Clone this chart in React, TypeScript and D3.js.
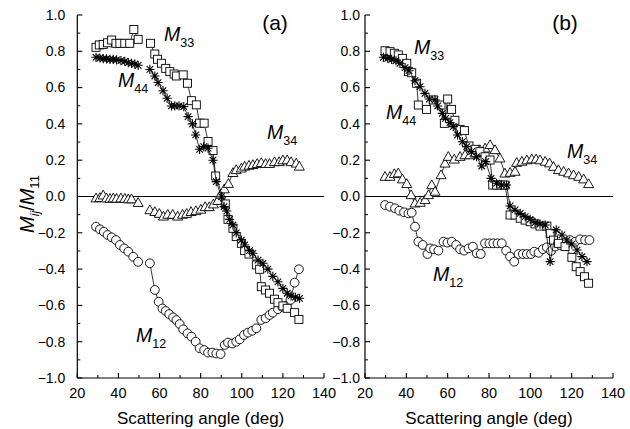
import React from "react";
import * as d3 from "d3";

type P = [number, number];

// ---------- Panel (a) data ----------
const aM33: P[] = [[29.1,0.822],[30.7,0.835],[32.6,0.838],[34.7,0.847],[36.7,0.862],[38.8,0.844],[40.7,0.844],[43.1,0.844],[45.5,0.844],[47.5,0.92],[49.6,0.866],
[55.6,0.844],[57.7,0.785],[59.0,0.756],[60.9,0.734],[63.0,0.706],[65.0,0.688],[67.1,0.675],[68.2,0.664],[71.5,0.67],[73.6,0.624],[75.5,0.528],[77.9,0.505],[79.5,0.404],[81.7,0.404],[83.6,0.303],[86.0,0.253],[87.3,0.113],
[92.0,-0.041],[93.3,-0.126],[95.7,-0.175],[97.3,-0.221],[99.8,-0.258],[101.4,-0.298],[103.5,-0.317],[107.1,-0.377],[108.7,-0.401],[109.5,-0.497],[111.6,-0.515],[113.5,-0.533],[115.9,-0.566],[117.6,-0.585],[120.0,-0.603],[122.1,-0.616],[125.7,-0.640],[127.8,-0.677]];

const aM44: P[] = [[29.1,0.767],[31.0,0.763],[32.6,0.760],[34.2,0.758],[35.9,0.756],[37.5,0.755],[39.1,0.753],[41.2,0.749],[43.1,0.745],[44.8,0.738],[46.4,0.734],[48.0,0.729],[49.6,0.723],
[55.3,0.70],[57.7,0.664],[59.3,0.628],[61.7,0.583],[63.7,0.541],[65.8,0.499],[67.4,0.499],[69.5,0.499],[71.8,0.495],[73.9,0.44],[76.0,0.40],[77.6,0.339],[79.5,0.26],[81.5,0.275],[83.6,0.266],[86.0,0.20],[87.6,0.082],[90.1,-0.001],[91.4,-0.056],[92.7,-0.08],[94.1,-0.126],[95.7,-0.157],[97.3,-0.2],[99.8,-0.24],[101.4,-0.267],[103.8,-0.298],[105.4,-0.313],[107.9,-0.35],[110.3,-0.368],[112.7,-0.40],[115.1,-0.44],[117.6,-0.47],[120.0,-0.506],[122.1,-0.533],[124.0,-0.548],[126.1,-0.555],[128.1,-0.561]];

const aM34: P[] = [[29.1,-0.01],[31.0,-0.008],[32.6,0.006],[34.2,-0.01],[35.9,-0.012],[37.5,-0.01],[39.1,-0.012],[41.2,-0.01],[43.1,-0.012],[44.8,-0.015],[46.4,-0.015],[49.6,-0.035],
[55.3,-0.075],[57.7,-0.085],[59.9,-0.095],[61.9,-0.11],[64.0,-0.1],[66.4,-0.1],[68.8,-0.11],[71.2,-0.1],[73.2,-0.095],[75.3,-0.085],[77.7,-0.08],[80.1,-0.072],[82.2,-0.058],[84.2,-0.058],[86.2,-0.043],[88.3,-0.024],[89.7,0.01],[91.5,0.04],[93.5,0.07],[95.7,0.13],[97.3,0.146],[99.8,0.155],[101.4,0.165],[103.5,0.17],[105.4,0.174],[107.5,0.18],[109.5,0.185],[111.6,0.18],[113.5,0.18],[115.9,0.19],[118.2,0.19],[120.0,0.20],[122.1,0.2],[124.0,0.19],[126.5,0.182],[128.0,0.165]];

const aM12: P[] = [[29.1,-0.166],[31.0,-0.181],[32.9,-0.194],[34.7,-0.212],[36.7,-0.225],[38.8,-0.24],[40.7,-0.267],[42.8,-0.286],[44.8,-0.304],[47.2,-0.332],[49.6,-0.36],
[55.3,-0.368],[57.7,-0.515],[59.6,-0.58],[61.4,-0.617],[63.0,-0.631],[64.7,-0.648],[66.6,-0.666],[68.2,-0.681],[69.8,-0.703],[71.5,-0.732],[73.6,-0.754],[75.5,-0.772],[77.6,-0.8],[79.5,-0.836],[81.7,-0.846],[83.6,-0.86],[85.7,-0.86],[87.6,-0.865],[89.7,-0.868],[91.7,-0.818],[93.3,-0.805],[95.4,-0.81],[97.3,-0.8],[99.0,-0.787],[101.1,-0.763],[103.0,-0.75],[105.1,-0.74],[107.1,-0.726],[109.5,-0.68],[111.6,-0.671],[113.5,-0.653],[115.1,-0.64],[117.6,-0.621],[119.7,-0.607],[121.6,-0.603],[123.7,-0.57],[125.7,-0.475],[127.8,-0.401]];

// ---------- Panel (b) data ----------
const bM33: P[] = [[29.7,0.803],[32.1,0.798],[34.2,0.789],[36.1,0.78],[38.1,0.761],[40.2,0.734],[41.0,0.688],[42.6,0.682],[45.0,0.624],[45.8,0.504],[49.8,0.48],[53.1,0.532],[56.8,0.504],[58.4,0.403],[60.0,0.537],[61.9,0.48],[63.5,0.42],[66.0,0.37],[68.1,0.363],[70.3,0.278],[73.2,0.26],[75.6,0.247],[78.1,0.219],[80.5,0.201],[81.8,0.063],[83.7,0.063],[85.8,0.063],[87.7,0.063],
[90.2,-0.102],[92.6,-0.102],[95.1,-0.12],[97.5,-0.13],[99.9,-0.139],[102.3,-0.151],[104.7,-0.163],[108.0,-0.163],[109.6,-0.203],[111.2,-0.24],[113.6,-0.258],[116.8,-0.276],[120.1,-0.335],[122.2,-0.387],[124.1,-0.414],[126.2,-0.442],[128.2,-0.478]];

const bM44: P[] = [[28.9,0.767],[31.0,0.761],[32.9,0.756],[35.0,0.748],[36.9,0.734],[39.4,0.71],[41.3,0.693],[44.2,0.638],[46.6,0.605],[49.0,0.568],[51.1,0.537],[53.9,0.532],[55.2,0.499],[57.4,0.458],[59.0,0.431],[61.1,0.407],[62.7,0.385],[64.8,0.339],[67.1,0.302],[69.2,0.275],[71.6,0.247],[74.0,0.219],[76.5,0.168],[78.4,0.192],[81.0,0.1],[83.7,0.073],[86.1,0.063],[88.5,0.063],
[90.2,-0.052],[92.6,-0.074],[95.1,-0.093],[97.5,-0.111],[99.9,-0.126],[102.3,-0.144],[104.7,-0.152],[107.2,-0.157],[109.6,-0.359],[112.5,-0.184],[115.3,-0.212],[117.7,-0.24],[120.1,-0.262],[122.6,-0.295],[125.0,-0.331],[127.4,-0.359]];

const bM34: P[] = [[29.7,0.109],[32.1,0.109],[34.2,0.124],[36.1,0.128],[38.1,0.095],[40.2,0.069],[42.3,0.008],[44.2,-0.038],[46.7,-0.034],[49.1,-0.019],[50.7,0.008],[52.3,0.063],[53.9,0.027],[56.8,0.118],[58.7,0.182],[60.3,0.219],[63.2,0.204],[66.0,0.219],[68.4,0.228],[70.8,0.228],[73.2,0.238],[75.6,0.256],[78.1,0.265],[80.5,0.284],[82.9,0.256],[85.3,0.21],[87.7,0.127],
[90.2,0.131],[92.6,0.137],[93.4,0.186],[95.9,0.192],[98.3,0.2],[100.7,0.205],[102.8,0.205],[104.7,0.2],[107.2,0.192],[109.3,0.183],[111.2,0.164],[113.6,0.146],[116.1,0.137],[118.5,0.128],[120.9,0.118],[123.4,0.109],[125.8,0.095],[128.2,0.069]];

const bM12: P[] = [[29.7,-0.047],[32.1,-0.056],[34.5,-0.065],[36.6,-0.078],[38.9,-0.087],[41.0,-0.093],[42.6,-0.089],[44.2,-0.166],[45.8,-0.249],[47.9,-0.267],[50.2,-0.317],[51.5,-0.286],[53.4,-0.291],[55.5,-0.298],[58.0,-0.249],[59.9,-0.254],[62.0,-0.249],[64.1,-0.267],[66.0,-0.291],[68.0,-0.298],[70.1,-0.286],[72.2,-0.276],[74.1,-0.313],[76.0,-0.317],[78.1,-0.258],[80.2,-0.258],[82.1,-0.258],[84.1,-0.258],[86.2,-0.258],[88.3,-0.298],[90.2,-0.331],[92.2,-0.359],[94.3,-0.317],[96.4,-0.317],[98.3,-0.317],[100.3,-0.317],[101.9,-0.304],[104.0,-0.31],[106.1,-0.29],[108.0,-0.28],[110.0,-0.3],[112.0,-0.276],[114.4,-0.267],[116.8,-0.254],[119.3,-0.24],[121.7,-0.249],[124.1,-0.236],[126.5,-0.24],[128.6,-0.24]];

const xTicksMajor = [20, 40, 60, 80, 100, 120, 140];
const xTicksMinor = [30, 50, 70, 90, 110, 130];
const yTicksMajor = [-1.0, -0.8, -0.6, -0.4, -0.2, 0.0, 0.2, 0.4, 0.6, 0.8, 1.0];
const yTicksMinor = [-0.9, -0.7, -0.5, -0.3, -0.1, 0.1, 0.3, 0.5, 0.7, 0.9];

const FONT = "'Liberation Sans', Arial, Helvetica, sans-serif";

const y = d3.scaleLinear().domain([-1, 1]).range([378, 15]);
const fmt = d3.format(".1f");

type Sc = d3.ScaleLinear<number, number>;

function segments(data: P[]): P[][] {
  const out: P[][] = [];
  let cur: P[] = [];
  data.forEach((d, i) => {
    if (i > 0 && d[0] - data[i - 1][0] > 5) { out.push(cur); cur = []; }
    cur.push(d);
  });
  if (cur.length) out.push(cur);
  return out;
}

function Series({ data, x, kind }: { data: P[]; x: Sc; kind: string }) {
  const line = d3.line<P>().x(d => x(d[0])).y(d => y(d[1]));
  const st = { fill: "white", stroke: "black", strokeWidth: 0.9 };
  return (
    <g>
      {segments(data).map((s, i) => (
        <path key={i} d={line(s) || ""} fill="none" stroke="black" strokeWidth={0.8} />
      ))}
      {data.map((d, i) => {
        const cx = x(d[0]), cy = y(d[1]);
        if (kind === "square") return <rect key={i} x={cx - 4} y={cy - 4} width={8} height={8} {...st} />;
        if (kind === "circle") return <circle key={i} cx={cx} cy={cy} r={4.4} {...st} />;
        if (kind === "triangle") return <path key={i} d={`M${cx},${cy - 5.2}L${cx + 5},${cy + 3.6}L${cx - 5},${cy + 3.6}Z`} {...st} />;
        const r = 4.6, q = r * 0.7071;
        return (
          <path key={i} d={`M${cx - r},${cy}L${cx + r},${cy}M${cx},${cy - r}L${cx},${cy + r}M${cx - q},${cy - q}L${cx + q},${cy + q}M${cx - q},${cy + q}L${cx + q},${cy - q}`}
            stroke="black" strokeWidth={1.1} fill="none" />
        );
      })}
    </g>
  );
}

function Label({ x0, y0, sub }: { x0: number; y0: number; sub: string }) {
  return (
    <text x={x0} y={y0} fontFamily={FONT} fontSize={19.5} fontStyle="italic">
      M<tspan fontStyle="normal" fontSize={12.5} dy={6}>{sub}</tspan>
    </text>
  );
}

function Panel({ x, gap, tag, tagX, data, labels }: {
  x: Sc; gap: number; tag: string; tagX: number;
  data: { d: P[]; kind: string }[]; labels: { x0: number; y0: number; sub: string }[];
}) {
  const [x0, x1] = x.range();
  return (
    <g>
      <line x1={x0} x2={x1} y1={y(0)} y2={y(0)} stroke="black" strokeWidth={1} />
      {data.map((s, i) => <Series key={i} data={s.d} x={x} kind={s.kind} />)}
      <line x1={x0} x2={x0} y1={y(1)} y2={y(-1)} stroke="black" strokeWidth={1.2} />
      <line x1={x0} x2={x1} y1={y(-1)} y2={y(-1)} stroke="black" strokeWidth={1.2} />
      {yTicksMajor.map(v => (
        <g key={"ym" + v}>
          <line x1={x0} x2={x0 + 5} y1={y(v)} y2={y(v)} stroke="black" strokeWidth={1.1} />
          <text x={x0 - gap} y={y(v) + 4.8} textAnchor="end" fontFamily={FONT} fontSize={14}>
            {fmt(Math.abs(v) < 1e-9 ? 0 : v)}
          </text>
        </g>
      ))}
      {yTicksMinor.map(v => (
        <line key={"yn" + v} x1={x0} x2={x0 + 3} y1={y(v)} y2={y(v)} stroke="black" strokeWidth={1} />
      ))}
      {xTicksMajor.map(v => (
        <g key={"xm" + v}>
          <line x1={x(v)} x2={x(v)} y1={y(-1)} y2={y(-1) - 5} stroke="black" strokeWidth={1.1} />
          <text x={x(v)} y={398} textAnchor="middle" fontFamily={FONT} fontSize={14.5}>{v}</text>
        </g>
      ))}
      {xTicksMinor.map(v => (
        <line key={"xn" + v} x1={x(v)} x2={x(v)} y1={y(-1)} y2={y(-1) - 3} stroke="black" strokeWidth={1} />
      ))}
      <text x={(x0 + x1) / 2} y={424} textAnchor="middle" fontFamily={FONT} fontSize={17}>Scattering angle (deg)</text>
      <text x={tagX} y={30} textAnchor="middle" fontFamily={FONT} fontSize={21}>{tag}</text>
      {labels.map((l, i) => <Label key={i} {...l} />)}
    </g>
  );
}

export default function App() {
  const xA = d3.scaleLinear().domain([20, 140]).range([77.3, 324]);
  const xB = d3.scaleLinear().domain([20, 140]).range([365, 613]);
  return (
    <svg width={630} height={429} style={{ position: "absolute", left: 0, top: 0, background: "white" }}>
      <rect x={0} y={0} width={630} height={429} fill="white" />
      <Panel x={xA} gap={12} tag="(a)" tagX={275}
        data={[{ d: aM34, kind: "triangle" }, { d: aM12, kind: "circle" }, { d: aM33, kind: "square" }, { d: aM44, kind: "asterisk" }]}
        labels={[{ x0: 164, y0: 41, sub: "33" }, { x0: 118, y0: 87, sub: "44" }, { x0: 267, y0: 139, sub: "34" }, { x0: 136, y0: 342, sub: "12" }]} />
      <Panel x={xB} gap={5} tag="(b)" tagX={565}
        data={[{ d: bM34, kind: "triangle" }, { d: bM12, kind: "circle" }, { d: bM33, kind: "square" }, { d: bM44, kind: "asterisk" }]}
        labels={[{ x0: 414, y0: 54, sub: "33" }, { x0: 386, y0: 119, sub: "44" }, { x0: 567, y0: 158, sub: "34" }, { x0: 433, y0: 281, sub: "12" }]} />
      <text transform="translate(34,204) rotate(-90)" textAnchor="middle" fontFamily={FONT} fontSize={20} fontStyle="italic">
        M<tspan fontSize={12} dy={5}>ij</tspan><tspan fontSize={20} dy={-5} fontStyle="normal">/</tspan>M<tspan fontSize={13} dy={5} fontStyle="normal">11</tspan>
      </text>
    </svg>
  );
}
